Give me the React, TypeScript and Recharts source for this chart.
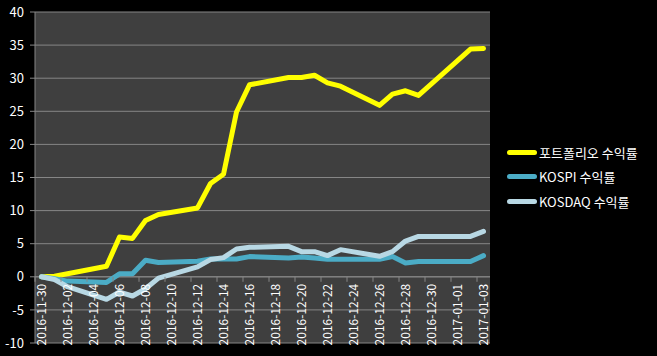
import * as React from 'react';
import { LineChart, Line, XAxis, YAxis, CartesianGrid, ReferenceLine } from 'recharts';

// every calendar day; weekends and market holidays carry null and are bridged
const dates = [
  '2016-11-30', '2016-12-01', '2016-12-02', '2016-12-03', '2016-12-04', '2016-12-05', '2016-12-06',
  '2016-12-07', '2016-12-08', '2016-12-09', '2016-12-10', '2016-12-11', '2016-12-12', '2016-12-13',
  '2016-12-14', '2016-12-15', '2016-12-16', '2016-12-17', '2016-12-18', '2016-12-19', '2016-12-20',
  '2016-12-21', '2016-12-22', '2016-12-23', '2016-12-24', '2016-12-25', '2016-12-26', '2016-12-27',
  '2016-12-28', '2016-12-29', '2016-12-30', '2016-12-31', '2017-01-01', '2017-01-02', '2017-01-03',
];

const portfolio = [
  0, 0.1, 0.45, null, null, 1.6, 6.0, 5.8, 8.5, 9.4, null, null, 10.4, 14.1, 15.5, 24.9, 29.0,
  null, null, 30.1, 30.1, 30.45, 29.3, 28.8, null, null, 25.9, 27.6, 28.1, 27.4, null, null, null, 34.4, 34.5,
];

const kospi = [
  0, -0.3, -0.65, null, null, -0.85, 0.45, 0.45, 2.5, 2.15, null, null, 2.35, 2.7, 2.7, 2.7, 3.05,
  null, null, 2.85, 3.0, 2.85, 2.65, 2.65, null, null, 2.65, 3.05, 2.1, 2.3, null, null, null, 2.3, 3.2,
];

const kosdaq = [
  0, -0.4, -1.5, null, null, -3.4, -2.3, -2.9, -1.8, -0.2, null, null, 1.5, 2.6, 2.9, 4.2, 4.45,
  null, null, 4.6, 3.8, 3.8, 3.2, 4.1, null, null, 3.1, 3.8, 5.4, 6.1, null, null, null, 6.1, 6.85,
];

const yTicks = [-10, -5, 0, 5, 10, 15, 20, 25, 30, 35, 40];

const series = [
  { key: 'portfolio', name: '포트폴리오 수익률', color: '#FFFF00' },
  { key: 'kospi', name: 'KOSPI 수익률', color: '#4BACC6' },
  { key: 'kosdaq', name: 'KOSDAQ 수익률', color: '#B8D8E4' },
];

const data = dates.map((d, i) => ({
  date: d,
  portfolio: portfolio[i],
  kospi: kospi[i],
  kosdaq: kosdaq[i],
}));

const W = 657;
const H = 356;
const X_AXIS_H = 2;
const Y_AXIS_W = 35;
const margin = { top: 12, right: 167, bottom: 13, left: 0 };
// overlay chart for the date axis, so its labels sit above the lines
const overlayMargin = { ...margin, left: margin.left + Y_AXIS_W, bottom: margin.bottom - X_AXIS_H };
const PLOT_W = W - margin.left - margin.right - Y_AXIS_W;
const PLOT_H = H - margin.top - margin.bottom;
const BAND = PLOT_W / dates.length;
const Y_MIN = -10;
const Y_MAX = 40;
const ZERO_Y = margin.top + (PLOT_H * Y_MAX) / (Y_MAX - Y_MIN);

const GRID = '#868686';
const FONT = '"Noto Sans CJK KR", "Noto Sans", sans-serif';

// date labels hang from the zero line, as the original's axis crosses there
function DateTick(props: any) {
  const { x, payload } = props;
  const tx = x - BAND / 2;
  return (
    <g>
      <line x1={tx} x2={tx} y1={ZERO_Y} y2={ZERO_Y + 5} stroke={GRID} />
      <text
        transform={`translate(${x},${ZERO_Y + 7}) rotate(-90)`}
        textAnchor="end"
        dy="0.36em"
        fill="#ffffff"
        fontSize={12}
        fontFamily={FONT}
      >
        {payload.value}
      </text>
    </g>
  );
}

export default function App() {
  return (
    <div style={{ position: 'relative', width: W, height: H, background: '#000', fontFamily: FONT }}>
      <style>{'body{margin:0;background:#000}'}</style>
      <LineChart width={W} height={H} data={data} margin={margin}>
        <CartesianGrid vertical={false} stroke={GRID} fill="#3F3F3F" fillOpacity={1} />
        <XAxis dataKey="date" hide padding={{ left: BAND / 2, right: BAND / 2 }} />
        <YAxis
          width={Y_AXIS_W}
          domain={[Y_MIN, Y_MAX]}
          ticks={yTicks}
          interval={0}
          axisLine={{ stroke: GRID }}
          tickLine={{ stroke: GRID }}
          tickSize={5}
          tickMargin={6}
          tick={{ fill: '#ffffff', fontSize: 13, fontFamily: FONT }}
        />
        <ReferenceLine y={0} stroke={GRID} />
        {series.map(s => (
          <Line
            key={s.key}
            type="linear"
            dataKey={s.key}
            name={s.name}
            stroke={s.color}
            strokeWidth={5}
            strokeLinejoin="round"
            strokeLinecap="round"
            dot={false}
            connectNulls
            isAnimationActive={false}
          />
        ))}
      </LineChart>
      <div style={{ position: 'absolute', left: 0, top: 0, pointerEvents: 'none' }}>
        <LineChart width={W} height={H} data={data} margin={overlayMargin}>
          <XAxis
            dataKey="date"
            height={X_AXIS_H}
            interval={1}
            padding={{ left: BAND / 2, right: BAND / 2 }}
            axisLine={false}
            tickLine={false}
            tick={DateTick}
          />
          <YAxis hide domain={[Y_MIN, Y_MAX]} />
        </LineChart>
      </div>
      <div style={{ position: 'absolute', left: 507, top: 140 }}>
        {series.map(s => (
          <div key={s.key} style={{ display: 'flex', alignItems: 'center', height: 24.5 }}>
            <span style={{ width: 30, height: 5, borderRadius: 3, background: s.color, display: 'inline-block' }} />
            <span style={{ marginLeft: 2, color: '#fff', fontSize: 13, whiteSpace: 'nowrap' }}>{s.name}</span>
          </div>
        ))}
      </div>
    </div>
  );
}
